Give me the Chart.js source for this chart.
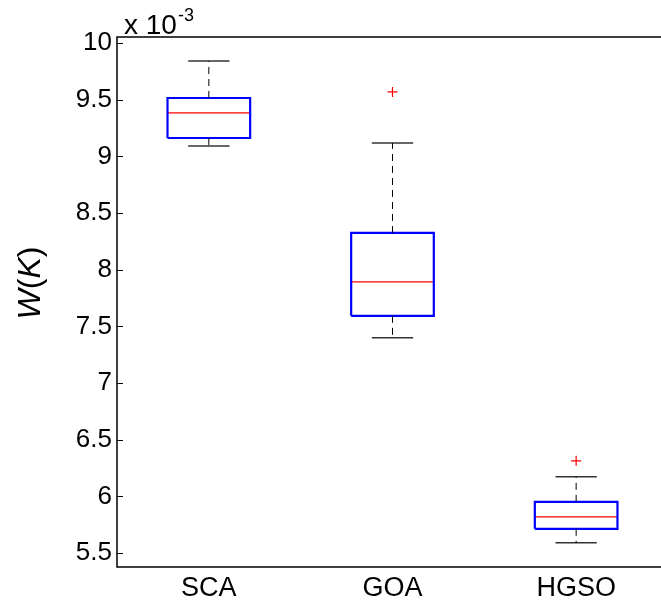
<!DOCTYPE html>
<html>
<head>
<meta charset="utf-8">
<script src="https://cdn.jsdelivr.net/npm/chart.js@4.4.0/dist/chart.umd.min.js"></script>
<style>
    html, body { margin: 0; padding: 0; background: #fff; overflow: hidden; }
    canvas { display: block; }
</style>
</head>
<body>
<canvas id="boxChart" width="661" height="602"></canvas>
<script>
// =========================================================
// DADOS (valores em unidades de 10^-3)
// =========================================================
const categorias = ['SCA', 'GOA', 'HGSO'];
const minimos    = [9.092, 7.399, 5.591];
const quartil1   = [9.162, 7.593, 5.714];
const medianas   = [9.383, 7.892, 5.820];
const quartil3   = [9.515, 8.324, 5.952];
const maximos    = [9.841, 9.118, 6.173];
const outliers   = [[], [9.568], [6.314]];
const yTicks     = [5.5, 6, 6.5, 7, 7.5, 8, 8.5, 9, 9.5, 10];

const FONTE = "'Liberation Sans', Arial, Helvetica, sans-serif";
const MEIA_CAIXA = 0.225;   // meia largura da caixa (unidades do eixo x)
const MEIO_CAP = 0.1125;    // meia largura do traço do bigode

// Monta um segmento de linha como dataset scatter
function segmento(pontos, cor, largura, dash) {
    return {
        type: 'scatter',
        data: pontos,
        showLine: true,
        borderColor: cor,
        borderWidth: largura,
        borderDash: dash || [],
        borderJoinStyle: 'miter',
        pointRadius: 0,
        pointHoverRadius: 0,
        fill: false
    };
}

const datasets = [];
categorias.forEach((c, i) => {
    const x = i + 1;
    // bigodes tracejados
    datasets.push(segmento([{ x, y: quartil3[i] }, { x, y: maximos[i] }], '#000', 1, [7, 5]));
    datasets.push(segmento([{ x, y: quartil1[i] }, { x, y: minimos[i] }], '#000', 1, [7, 5]));
    // traços das extremidades
    datasets.push(segmento([{ x: x - MEIO_CAP, y: maximos[i] }, { x: x + MEIO_CAP, y: maximos[i] }], '#333', 1.5));
    datasets.push(segmento([{ x: x - MEIO_CAP, y: minimos[i] }, { x: x + MEIO_CAP, y: minimos[i] }], '#333', 1.5));
    // caixa
    datasets.push(segmento([
        { x: x - MEIA_CAIXA, y: quartil1[i] },
        { x: x + MEIA_CAIXA, y: quartil1[i] },
        { x: x + MEIA_CAIXA, y: quartil3[i] },
        { x: x - MEIA_CAIXA, y: quartil3[i] },
        { x: x - MEIA_CAIXA, y: quartil1[i] }
    ], '#0000ff', 2.2));
    // mediana
    datasets.push(segmento([{ x: x - MEIA_CAIXA, y: medianas[i] }, { x: x + MEIA_CAIXA, y: medianas[i] }], '#ff0000', 1.2));
});

// outliers (cruz vermelha)
datasets.push({
    type: 'scatter',
    data: outliers.flatMap((lista, i) => lista.map(v => ({ x: i + 1, y: v }))),
    pointStyle: 'cross',
    pointRadius: 5,
    pointBorderColor: '#ff0000',
    pointBorderWidth: 1.2,
    showLine: false
});

// Moldura (o lado direito fica fora da imagem), ticks internos, título e expoente
const molduraPlugin = {
    id: 'moldura',
    afterDraw(chart) {
        const { ctx, chartArea: a, scales } = chart;
        ctx.save();
        ctx.strokeStyle = '#000';
        ctx.lineWidth = 1.5;
        ctx.beginPath();
        ctx.moveTo(a.right, a.top);
        ctx.lineTo(a.left, a.top);
        ctx.lineTo(a.left, a.bottom);
        ctx.lineTo(a.right, a.bottom);
        ctx.stroke();

        ctx.lineWidth = 1;
        yTicks.forEach(v => {
            const y = Math.round(scales.y.getPixelForValue(v)) + 0.5;
            ctx.beginPath();
            ctx.moveTo(a.left, y);
            ctx.lineTo(a.left + 6, y);
            ctx.stroke();
        });

        // rótulo do eixo y: W(K)
        ctx.fillStyle = '#000';
        ctx.textBaseline = 'alphabetic';
        const partes = [
            ['W', 'italic'], ['(', 'normal'], ['K', 'italic'], [')', 'normal']
        ];
        let total = 0;
        partes.forEach(p => {
            ctx.font = `${p[1]} 32px ${FONTE}`;
            total += ctx.measureText(p[0]).width;
        });
        ctx.translate(40, 283);
        ctx.rotate(-Math.PI / 2);
        let cx = -total / 2;
        partes.forEach(p => {
            ctx.font = `${p[1]} 32px ${FONTE}`;
            ctx.fillText(p[0], cx, 0);
            cx += ctx.measureText(p[0]).width;
        });
        ctx.setTransform(1, 0, 0, 1, 0, 0);

        // multiplicador x 10^-3
        ctx.font = `28px ${FONTE}`;
        ctx.fillText('x 10', 124, 34);
        const w = ctx.measureText('x 10').width;
        ctx.font = `18px ${FONTE}`;
        ctx.fillText('-3', 124 + w + 1, 21);
        ctx.restore();
    }
};

new Chart(document.getElementById('boxChart'), {
    type: 'scatter',
    data: { datasets },
    options: {
        responsive: false,
        animation: false,
        devicePixelRatio: 1,
        layout: { autoPadding: false, padding: { top: 37, right: 0, left: 0, bottom: 0 } },
        plugins: {
            legend: { display: false },
            tooltip: { enabled: false }
        },
        scales: {
            x: {
                type: 'linear',
                // o eixo original vai até 3.5, mas a imagem corta a borda direita
                min: 0.5,
                max: 3.462,
                afterBuildTicks: s => { s.ticks = categorias.map((c, i) => ({ value: i + 1 })); },
                afterFit: s => { s.height = 35; s.paddingLeft = 0; s.paddingRight = 0; },
                grid: { display: false, drawTicks: false },
                border: { display: false },
                ticks: {
                    callback: (v, idx) => categorias[idx],
                    font: { size: 27, family: FONTE },
                    color: '#000',
                    padding: 5,
                    maxRotation: 0,
                    autoSkip: false
                }
            },
            y: {
                type: 'linear',
                min: 5.377,
                max: 10.053,
                afterBuildTicks: s => { s.ticks = yTicks.map(v => ({ value: v })); },
                afterFit: s => { s.width = 117; s.paddingTop = 0; s.paddingBottom = 0; },
                grid: { display: false, drawTicks: false },
                border: { display: false },
                ticks: {
                    callback: v => String(v),
                    font: { size: 26, family: FONTE },
                    color: '#000',
                    padding: 5
                }
            }
        }
    },
    plugins: [molduraPlugin]
});
</script>
</body>
</html>
